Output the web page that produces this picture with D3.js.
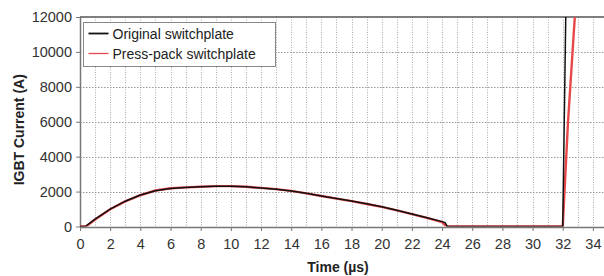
<!DOCTYPE html>
<html>
<head>
<meta charset="utf-8">
<script src="https://cdn.jsdelivr.net/npm/d3@7"></script>
<style>
  body { margin: 0; background: #fff; }
  text { font-family: Arial, "Liberation Sans", sans-serif; }
</style>
</head>
<body>
<svg id="chart" width="604" height="276"></svg>
<script>
// values
const origTime = [0, 0.35, 1, 2, 3, 4, 5, 6, 7, 8, 9, 10, 11, 12, 13, 14, 15, 16, 17, 18, 19, 20, 21, 22, 23, 24, 24.2, 24.35, 32.0, 32.1, 32.2, 32.4];
const origCurrent = [0, 0, 420, 1000, 1450, 1800, 2050, 2180, 2230, 2280, 2300, 2300, 2270, 2200, 2130, 2040, 1900, 1750, 1610, 1460, 1300, 1130, 930, 720, 500, 280, 220, 0, 0, 6000, 12000, 14000];
const pressTime = [0, 0.4, 1, 2, 3, 4, 5, 6, 7, 8, 9, 10, 11, 12, 13, 14, 15, 16, 17, 18, 19, 20, 21, 22, 23, 24, 24.3, 32.0, 32.35, 32.8, 33.0];
const pressCurrent = [0, 0, 400, 990, 1440, 1790, 2060, 2190, 2240, 2280, 2310, 2310, 2280, 2210, 2140, 2040, 1900, 1750, 1600, 1450, 1290, 1120, 920, 710, 490, 250, 0, 0, 6000, 12000, 13000];

const seriesNames = ["Original switchplate", "Press-pack switchplate"];
const seriesColors = ["#111", "#e8474a"];
const xTicks = d3.range(0, 35, 2);
const yTicks = d3.range(0, 12001, 2000);

const width = 604, height = 276;
const margin = { left: 80, right: -4, top: 17, bottom: 50 };

const svg = d3.select("#chart");

const x = d3.scaleLinear().domain([0, 35]).range([margin.left, width - margin.right]);
const y = d3.scaleLinear().domain([0, 12000]).range([height - margin.bottom + 0.5, margin.top]);

// grid lines
svg.append("g")
    .selectAll("line")
    .data(d3.range(1, 35, 1))
    .join("line")
      .attr("x1", d => Math.round(x(d)) + 0.5)
      .attr("x2", d => Math.round(x(d)) + 0.5)
      .attr("y1", y(12000))
      .attr("y2", y(0))
      .attr("stroke", "#aaa")
      .attr("stroke-dasharray", "1,1.5");

svg.append("g")
    .selectAll("line")
    .data(yTicks.slice(1, -1))
    .join("line")
      .attr("x1", x(0))
      .attr("x2", width)
      .attr("y1", d => Math.round(y(d)) + 0.5)
      .attr("y2", d => Math.round(y(d)) + 0.5)
      .attr("stroke", "#999")
      .attr("stroke-dasharray", "1.5,1.5");

// axes
const xAxis = d3.axisBottom(x).tickValues(xTicks).tickSize(4).tickSizeOuter(0).tickFormat(d3.format("d"));
const yAxis = d3.axisLeft(y).tickValues(yTicks).tickSize(4).tickSizeOuter(0).tickFormat(d3.format("d"));

const gx = svg.append("g")
    .attr("transform", `translate(0,${Math.round(y(0))})`)
    .call(xAxis);
const gy = svg.append("g")
    .attr("transform", `translate(${x(0)},0)`)
    .call(yAxis);

[gx, gy].forEach(g => {
  g.select(".domain").attr("stroke", "#777").attr("stroke-width", 1.5);
  g.selectAll(".tick line").attr("stroke", "#777");
  g.selectAll(".tick text").attr("fill", "#333").style("font-size", "14.5px");
});
gx.selectAll(".tick text").attr("dy", "1.05em");
gy.selectAll(".tick text").attr("x", -8);

// top border
svg.append("line")
    .attr("x1", x(0)).attr("x2", width)
    .attr("y1", y(12000)).attr("y2", y(12000))
    .attr("stroke", "#555").attr("stroke-width", 1.5);

// clip for curves
svg.append("clipPath").attr("id", "plotclip")
  .append("rect")
    .attr("x", x(0)).attr("y", y(12000))
    .attr("width", width - x(0)).attr("height", y(0) - y(12000));

const line = d3.line().x(d => x(d[0])).y(d => y(d[1]));
const series = [
  d3.zip(origTime, origCurrent),
  d3.zip(pressTime, pressCurrent)
];

// red drawn first and a bit wider, black on top
const plot = svg.append("g").attr("clip-path", "url(#plotclip)");
plot.append("path")
    .datum(series[1])
    .attr("fill", "none")
    .attr("stroke", seriesColors[1])
    .attr("stroke-width", 2.4)
    .attr("d", line);
plot.append("path")
    .datum(series[0])
    .attr("fill", "none")
    .attr("stroke", seriesColors[0])
    .attr("stroke-width", 1.5)
    .attr("d", line);

// legend
const legend = svg.append("g").attr("transform", "translate(83.5,22.5)");
legend.append("rect")
    .attr("width", 192).attr("height", 44)
    .attr("fill", "#fff").attr("stroke", "#888");
seriesNames.forEach((name, i) => {
  const ly = 11 + i * 20;
  legend.append("line")
      .attr("x1", 5).attr("x2", 25)
      .attr("y1", ly).attr("y2", ly)
      .attr("stroke", seriesColors[i])
      .attr("stroke-width", i === 0 ? 1.8 : 1.3);
  legend.append("text")
      .attr("x", 29).attr("y", ly + 5)
      .attr("fill", "#222")
      .style("font-size", "14px")
      .text(name);
});

// axis titles
svg.append("text")
    .attr("transform", `translate(24,${(y(0) + y(12000)) / 2 + 8}) rotate(-90)`)
    .attr("text-anchor", "middle")
    .attr("fill", "#222")
    .style("font-size", "14px")
    .style("font-weight", "bold")
    .text("IGBT Current (A)");

svg.append("text")
    .attr("x", 338).attr("y", 272)
    .attr("text-anchor", "middle")
    .attr("fill", "#222")
    .style("font-size", "14px")
    .style("font-weight", "bold")
    .text("Time (µs)");
</script>
</body>
</html>
